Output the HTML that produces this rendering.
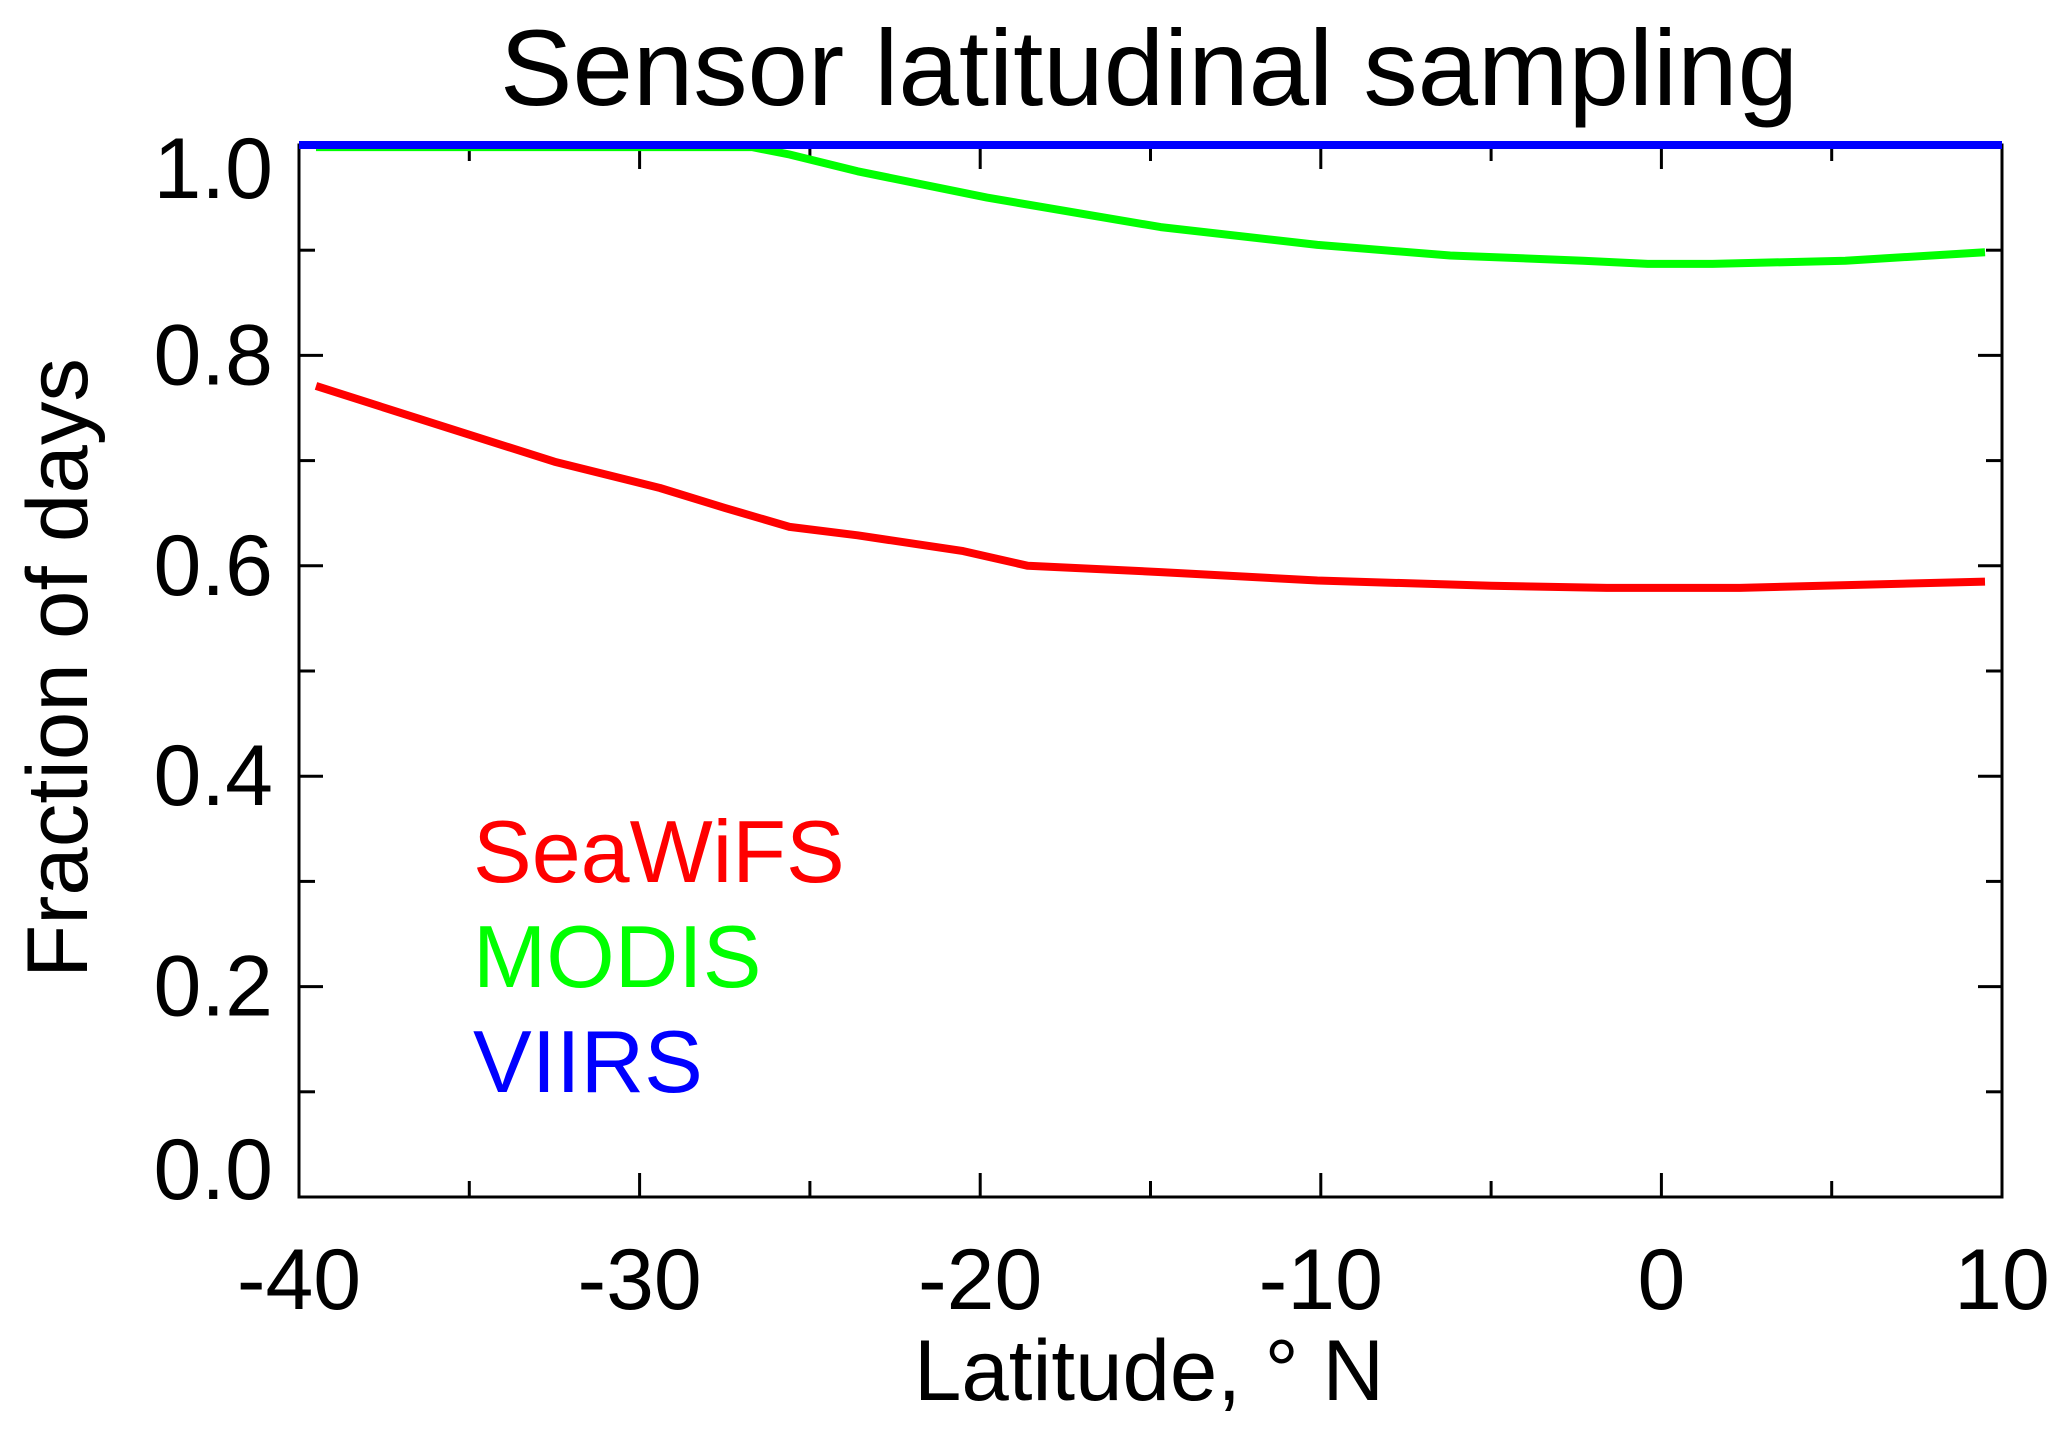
<!DOCTYPE html>
<html><head><meta charset="utf-8"><style>
html,body{margin:0;padding:0;background:#fff;}
svg{display:block;font-family:"Liberation Sans",Arial,sans-serif;}
</style></head><body>
<svg id="chart" width="2067" height="1435" viewBox="0 0 2067 1435" xmlns="http://www.w3.org/2000/svg">
<text x="1149" y="105" font-size="108" text-anchor="middle" textLength="1298" lengthAdjust="spacingAndGlyphs">Sensor latitudinal sampling</text>
<g id="axes"></g>
<g id="series"></g>
<text x="1149" y="1400" font-size="86" text-anchor="middle" textLength="470" lengthAdjust="spacingAndGlyphs">Latitude, ° N</text>
<text transform="translate(87,668) rotate(-90)" font-size="86" text-anchor="middle" textLength="620" lengthAdjust="spacingAndGlyphs">Fraction of days</text>
<text x="473" y="882" font-size="88" fill="#ff0000">SeaWiFS</text>
<text x="473" y="987" font-size="88" fill="#00ff00">MODIS</text>
<text x="473" y="1092" font-size="88" fill="#0000ff">VIIRS</text>
</svg>
<script>
const xTicks = [-40, -30, -20, -10, 0, 10];
const xTickLabels = ["-40", "-30", "-20", "-10", "0", "10"];
const yTicks = [0, 0.2, 0.4, 0.6, 0.8, 1.0];
const yTickLabels = ["0.0", "0.2", "0.4", "0.6", "0.8", "1.0"];
const seawifsLat = [-39.5, -36.4, -32.5, -29.4, -27.5, -25.6, -23.6, -20.5, -18.6, -14.7, -10.1, -5.0, -1.6, 2.3, 9.5];
const seawifsVal = [0.771, 0.739, 0.699, 0.674, 0.655, 0.637, 0.629, 0.614, 0.600, 0.594, 0.586, 0.581, 0.579, 0.579, 0.585];
const modisLat = [-39.5, -26.7, -25.6, -23.6, -19.8, -14.7, -10.1, -6.2, -2.3, -0.4, 1.5, 5.4, 9.5];
const modisVal = [0.998, 0.998, 0.991, 0.975, 0.950, 0.922, 0.905, 0.895, 0.890, 0.887, 0.887, 0.890, 0.898];
const viirsLat = [-40, 10];
const viirsVal = [1.0, 1.0];

const L=299, R=2002, T=145, B=1197;
const xs = v => L + (v+40)/50*(R-L);
const ys = v => B - v*(B-T);
const NS="http://www.w3.org/2000/svg";
const axes=document.getElementById('axes'), series=document.getElementById('series');
function mk(tag, attrs, parent){const e=document.createElementNS(NS,tag);for(const k in attrs)e.setAttribute(k,attrs[k]);parent.appendChild(e);return e;}

const frame=mk('rect',{x:L,y:T,width:R-L,height:B-T,fill:'none',stroke:'#000','stroke-width':3},axes);



for(let v=-40; v<=10; v+=5){
  const major = v%10===0, len = major?24:16, x=xs(v);
  const t1=mk('line',{x1:x,x2:x,y1:B,y2:B-len,stroke:'#000','stroke-width':3},axes);
  
  
  const t2=mk('line',{x1:x,x2:x,y1:T,y2:T+len,stroke:'#000','stroke-width':3},axes);
  
  
}
for(let i=0;i<=10;i++){
  const v=i/10, major=i%2===0, len=major?24:16, y=ys(v);
  const t1=mk('line',{x1:L,x2:L+len,y1:y,y2:y,stroke:'#000','stroke-width':3},axes);
  
  
  const t2=mk('line',{x1:R,x2:R-len,y1:y,y2:y,stroke:'#000','stroke-width':3},axes);
  
  
}
xTicks.forEach((v,i)=>{
  const t=mk('text',{x:xs(v),y:1309,'font-size':86,'text-anchor':'middle'},axes);
  t.textContent=xTickLabels[i];
  
  
});
yTicks.forEach((v,i)=>{
  let by = ys(v)+29;
  if(v>=1) by = ys(v)+53;
  if(v<=0) by = ys(v)+2;
  const t=mk('text',{x:273,y:by,'font-size':86,'text-anchor':'end'},axes);
  t.textContent=yTickLabels[i];
  
  
});
function line(lat,val,color,name){
  const d=lat.map((v,i)=>(i?'L':'M')+xs(v).toFixed(1)+','+ys(val[i]).toFixed(1)).join(' ');
  const p=mk('path',{d:d,fill:'none',stroke:color,'stroke-width':8,'stroke-linejoin':'round'},series);
  
  
}
line(seawifsLat,seawifsVal,'#ff0000','seawifs-line');
line(modisLat,modisVal,'#00ff00','modis-line');
line(viirsLat,viirsVal,'#0000ff','viirs-line');
</script>
</body></html>
